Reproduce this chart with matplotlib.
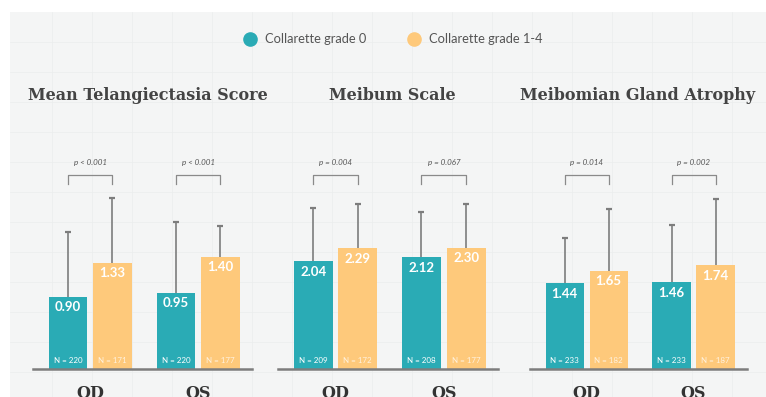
import matplotlib.pyplot as plt
from matplotlib.lines import Line2D
from matplotlib.patches import Rectangle
import matplotlib.transforms as mtransforms

# ------------------------------------------------------------
# data
# ------------------------------------------------------------
eyes = ["OD", "OS"]
groups = ["Collarette grade 0", "Collarette grade 1-4"]
titles = ["Mean Telangiectasia Score", "Meibum Scale", "Meibomian Gland Atrophy"]

telang_g0 = [0.90, 0.95]
telang_g1 = [1.33, 1.40]
telang_sd_g0 = [0.81, 0.89]
telang_sd_g1 = [0.81, 0.39]
telang_n_g0 = [220, 220]
telang_n_g1 = [171, 177]
telang_p = ["p < 0.001", "p < 0.001"]

meibum_g0 = [2.04, 2.12]
meibum_g1 = [2.29, 2.30]
meibum_sd_g0 = [1.02, 0.86]
meibum_sd_g1 = [0.84, 0.83]
meibum_n_g0 = [209, 208]
meibum_n_g1 = [172, 177]
meibum_p = ["p = 0.004", "p = 0.067"]

atrophy_g0 = [1.44, 1.46]
atrophy_g1 = [1.65, 1.74]
atrophy_sd_g0 = [0.76, 0.96]
atrophy_sd_g1 = [1.04, 1.12]
atrophy_n_g0 = [233, 233]
atrophy_n_g1 = [182, 187]
atrophy_p = ["p = 0.014", "p = 0.002"]

TEAL = "#2aabb5"
ORANGE = "#fec97b"
GREY = "#7d7d7d"
BG = "#f4f5f5"

W, H = 766, 397
fig = plt.figure(figsize=(W / 100, H / 100), dpi=100, facecolor="white")


def fx(px):
    return px / W


def fy(py):
    return 1 - py / H


# paper-like background with a very faint grid
fig.add_artist(Rectangle((fx(10), 0), 1 - fx(10), fy(12), transform=fig.transFigure,
                         facecolor=BG, edgecolor="none", zorder=-10))
for gx in range(52, W, 40):
    fig.add_artist(Line2D([fx(gx), fx(gx)], [0, fy(12)], transform=fig.transFigure,
                          color="#ebeded", lw=0.5, zorder=-9))
for gy in range(42, H, 30):
    fig.add_artist(Line2D([fx(10), 1], [fy(gy), fy(gy)], transform=fig.transFigure,
                          color="#ebeded", lw=0.5, zorder=-9))

# legend
for cx, tx, col, lab in [(250, 265, TEAL, groups[0]), (414, 429, ORANGE, groups[1])]:
    fig.add_artist(Line2D([fx(cx)], [fy(39)], transform=fig.transFigure, marker="o",
                          markersize=9.5, color=col, linestyle="none"))
    fig.text(fx(tx), fy(39), lab, family="Lato", fontsize=9.3, color="#555555",
             va="center", ha="left")

panels = [
    (titles[0], 148, 33, 252, 80.0, telang_g0, telang_g1, telang_sd_g0, telang_sd_g1,
     telang_n_g0, telang_n_g1, telang_p),
    (titles[1], 392, 278, 498, 52.7, meibum_g0, meibum_g1, meibum_sd_g0, meibum_sd_g1,
     meibum_n_g0, meibum_n_g1, meibum_p),
    (titles[2], 638, 530, 747, 59.5, atrophy_g0, atrophy_g1, atrophy_sd_g0, atrophy_sd_g1,
     atrophy_n_g0, atrophy_n_g1, atrophy_p),
]

base_px, top_px = 369, 150
off, bw = 0.206, 0.358
x = [0, 1]

for (title, tcx, left, right, ppu, g0, g1, sd0, sd1, n0, n1, pvals) in panels:
    ax = fig.add_axes([fx(left), fy(base_px), fx(right - left), (base_px - top_px) / H])
    ax.set_facecolor("none")
    ax.set_xlim(-0.53, 1.5)
    ax.set_ylim(0, (base_px - top_px) / ppu)
    ax.axis("off")

    x0 = [v - off for v in x]
    x1 = [v + off for v in x]
    ax.bar(x0, g0, width=bw, color=TEAL, zorder=2)
    ax.bar(x1, g1, width=bw, color=ORANGE, zorder=2)

    # upper-only error bars with a cap at the top
    for xs, vals, sds in [(x0, g0, sd0), (x1, g1, sd1)]:
        tops = [v + s for v, s in zip(vals, sds)]
        ax.vlines(xs, vals, tops, color=GREY, lw=1.2, zorder=1)
        ax.plot(xs, tops, linestyle="none", marker="_", markersize=4.5,
                markeredgewidth=1.6, color=GREY, zorder=1)

    ax.axhline(0, color=GREY, lw=1.8, zorder=3, clip_on=False)

    for xs, vals, ns, nalpha in [(x0, g0, n0, 1.0), (x1, g1, n1, 0.75)]:
        for xi, v, n in zip(xs, vals, ns):
            ax.annotate(f"{v:.2f}", (xi, v), xytext=(0, -7.5), textcoords="offset points",
                        ha="center", va="center", family="Lato", fontweight="bold",
                        fontsize=9.5, color="white", zorder=4)
            ax.annotate(f"N = {n}", (xi, 0), xytext=(0, 5.8), textcoords="offset points",
                        ha="center", va="center", family="Lato", fontsize=5.8,
                        color="white", alpha=nalpha, zorder=4)

    # significance brackets
    trans = mtransforms.blended_transform_factory(ax.transData, ax.transAxes)
    for a, b, p in zip(x0, x1, pvals):
        ax.plot([a, a, b, b], [0.845, 0.886, 0.886, 0.845], color="#8a8a8a", lw=0.9,
                transform=trans, clip_on=False)
        ax.text((a + b) / 2, 0.945, p, transform=trans, ha="center", va="center",
                family="Lato", style="italic", fontsize=5.8, color="#555555")

    for xi, lab in zip(x, eyes):
        ax.text(xi, -16 / ((base_px - top_px)), lab, transform=trans, ha="center", va="top",
                family="DejaVu Serif", fontweight="bold", fontsize=11.5, color="#333333")

    fig.text(fx(tcx), fy(95), title, ha="center", va="center", family="DejaVu Serif",
             fontweight="bold", fontsize=11.5, color="#444444")

fig.savefig("out.png", dpi=100, facecolor=fig.get_facecolor())
